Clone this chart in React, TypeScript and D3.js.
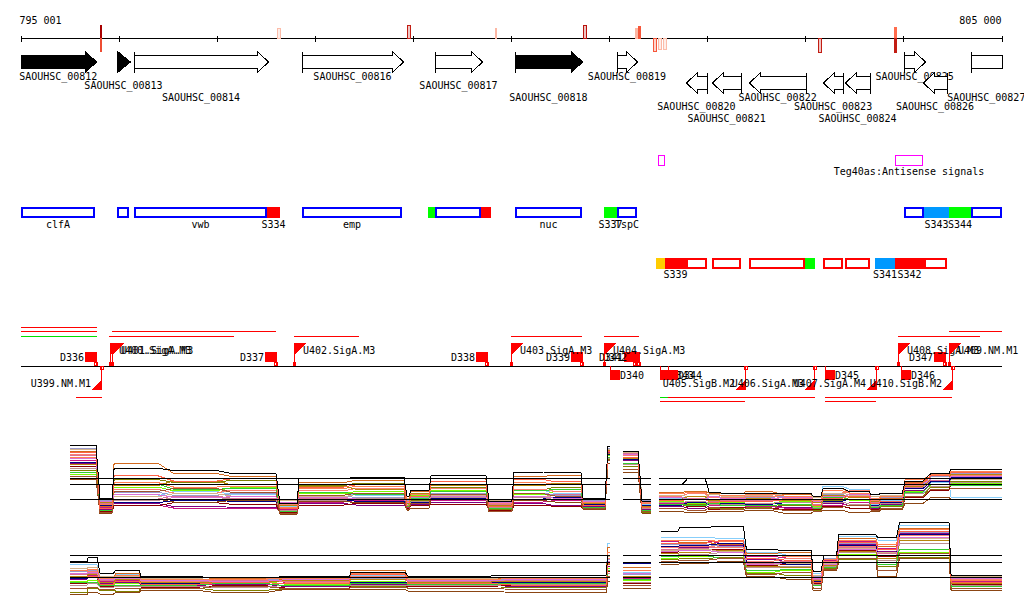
import React from "react";
import * as d3 from "d3";

// ---------- data ----------
const domainStart = 795001;
const domainEnd = 805000;
const rulerTicks = [795001, 796001, 797001, 798001, 799001, 800001, 801001, 802001, 803001, 804001, 805000];
const rulerLabels = [
  { pos: 795001, text: "795 001", anchor: "start" },
  { pos: 805000, text: "805 000", anchor: "end" },
];

const signalMarks = [
  { start: 795811, end: 795831, strand: 1, level: 1.0 },
  { start: 795811, end: 795831, strand: -1, level: 0.6 },
  { start: 797616, end: 797656, strand: 1, level: 0.1 },
  { start: 798941, end: 798981, strand: 1, level: 0.85 },
  { start: 799838, end: 799858, strand: 1, level: 0.12 },
  { start: 800735, end: 800775, strand: 1, level: 0.9 },
  { start: 801265, end: 801290, strand: 1, level: 0.12 },
  { start: 801296, end: 801326, strand: 1, level: 0.55 },
  { start: 801443, end: 801489, strand: -1, level: 0.55 },
  { start: 801494, end: 801540, strand: -1, level: 0.12 },
  { start: 801545, end: 801591, strand: -1, level: 0.1 },
  { start: 803130, end: 803171, strand: -1, level: 0.85 },
  { start: 803905, end: 803935, strand: 1, level: 0.45 },
  { start: 803905, end: 803935, strand: -1, level: 0.85 },
];

const genes = [
  { id: "SAOUHSC_00812", start: 794900, end: 795771, strand: 1, dark: true },
  { id: "SAOUHSC_00813", start: 795985, end: 796117, strand: 1, dark: true },
  { id: "SAOUHSC_00814", start: 796158, end: 797524, strand: 1, dark: false },
  { id: "SAOUHSC_00816", start: 797870, end: 798900, strand: 1, dark: false },
  { id: "SAOUHSC_00817", start: 799226, end: 799705, strand: 1, dark: false },
  { id: "SAOUHSC_00818", start: 800041, end: 800724, strand: 1, dark: true },
  { id: "SAOUHSC_00819", start: 801081, end: 801285, strand: 1, dark: false },
  { id: "SAOUHSC_00820", start: 801784, end: 801998, strand: -1, dark: false },
  { id: "SAOUHSC_00821", start: 802050, end: 802345, strand: -1, dark: false },
  { id: "SAOUHSC_00822", start: 802427, end: 803008, strand: -1, dark: false },
  { id: "SAOUHSC_00823", start: 803181, end: 803385, strand: -1, dark: false },
  { id: "SAOUHSC_00824", start: 803405, end: 803660, strand: -1, dark: false },
  { id: "SAOUHSC_00825", start: 804007, end: 804221, strand: 1, dark: false },
  { id: "SAOUHSC_00826", start: 804200, end: 804445, strand: -1, dark: false },
  { id: "SAOUHSC_00827", start: 804690, end: 805400, strand: 1, dark: false },
];
const geneLabelLane = [0, 1, 2, 0, 1, 2, 0, 3, 4, 2, 3, 4, 0, 3, 2];

const antisenseSignals = [
  { label: "", start: 801499, end: 801570 },
  { label: "Teg40as:Antisense signals", start: 803915, end: 804200 },
];

const senseFeatures = [
  { label: "clfA", start: 795001, end: 795760, type: "cds" },
  { label: "", start: 795985, end: 796107, type: "cds" },
  { label: "vwb", start: 796158, end: 797514, type: "cds" },
  { label: "emp", start: 797870, end: 798890, type: "cds" },
  { label: "", start: 799226, end: 799695, type: "cds" },
  { label: "nuc", start: 800041, end: 800724, type: "cds" },
  { label: "TspC", start: 801081, end: 801285, type: "cds" },
  { label: "", start: 804007, end: 804210, type: "cds" },
  { label: "", start: 804690, end: 805000, type: "cds" },
  { label: "S334", start: 797514, end: 797646, type: "red" },
  { label: "", start: 799155, end: 799226, type: "green" },
  { label: "", start: 799695, end: 799797, type: "red" },
  { label: "S337", start: 800949, end: 801081, type: "green" },
  { label: "S343", start: 804210, end: 804465, type: "blue" },
  { label: "S344", start: 804465, end: 804690, type: "green" },
];

const reverseFeatures = [
  { label: "", start: 801784, end: 801998, type: "cds" },
  { label: "", start: 802050, end: 802345, type: "cds" },
  { label: "", start: 802427, end: 802997, type: "cds" },
  { label: "", start: 803181, end: 803385, type: "cds" },
  { label: "", start: 803405, end: 803660, type: "cds" },
  { label: "", start: 804210, end: 804445, type: "cds" },
  { label: "", start: 801479, end: 801570, type: "orange" },
  { label: "S339", start: 801570, end: 801784, type: "red" },
  { label: "", start: 802997, end: 803099, type: "green" },
  { label: "S341", start: 803711, end: 803915, type: "blue" },
  { label: "S342", start: 803915, end: 804210, type: "red" },
];

const tssForward = [
  { name: "U400.SigA.M3", pos: 795913 },
  { name: "U401.SigA.M3", pos: 795933 },
  { name: "U402.SigA.M3", pos: 797789 },
  { name: "U403.SigA.M3", pos: 800001 },
  { name: "U404.SigA.M3", pos: 800949 },
  { name: "U408.SigA.M3", pos: 803945 },
  { name: "U409.NM.M1", pos: 804465 },
];
const tssReverse = [
  { name: "U399.NM.M1", pos: 795821 },
  { name: "U405.SigB.M2", pos: 802386 },
  { name: "U406.SigA.M3", pos: 803089 },
  { name: "U407.SigA.M4", pos: 803721 },
  { name: "U410.SigB.M2", pos: 804496 },
];
const endsForward = [
  { name: "D336", pos: 795771 },
  { name: "D337", pos: 797605 },
  { name: "D338", pos: 799756 },
  { name: "D339", pos: 800724 },
  { name: "D341", pos: 801265 },
  { name: "D342", pos: 801306 },
  { name: "D347", pos: 804425 },
];
const endsReverse = [
  { name: "D340", pos: 801010 },
  { name: "D343", pos: 801519 },
  { name: "D344", pos: 801601 },
  { name: "D345", pos: 803201 },
  { name: "D346", pos: 803976 },
];

const utrForward = [
  { start: 795001, end: 795781, lane: 2, kind: "r" },
  { start: 795001, end: 795781, lane: 1, kind: "r" },
  { start: 795001, end: 795781, lane: 0, kind: "g" },
  { start: 795934, end: 797605, lane: 1, kind: "r" },
  { start: 795903, end: 797177, lane: 0, kind: "r" },
  { start: 797789, end: 798451, lane: 0, kind: "r" },
  { start: 800001, end: 800724, lane: 0, kind: "r" },
  { start: 800949, end: 801305, lane: 0, kind: "r" },
  { start: 803945, end: 804781, lane: 0, kind: "r" },
  { start: 804465, end: 805000, lane: 1, kind: "r" },
];
const utrReverse = [
  { start: 795567, end: 795832, lane: 0, kind: "r" },
  { start: 801519, end: 803099, lane: 0, kind: "r" },
  { start: 801519, end: 801601, lane: 0, kind: "g" },
  { start: 801519, end: 802386, lane: 1, kind: "r" },
  { start: 803201, end: 804496, lane: 0, kind: "r" },
  { start: 803201, end: 803721, lane: 1, kind: "r" },
];

// expression tracks: [start, end, section]
const p1Segments = [
  [795506, 795771, 0], [795811, 795934, 0], [795955, 796400, 0], [796560, 797000, 0],
  [797150, 797605, 0], [797646, 797820, 0], [797840, 798300, 0], [798420, 798910, 0],
  [798940, 798960, 0], [798981, 799165, 0], [799185, 799745, 0], [799776, 800010, 0],
  [800031, 800330, 0], [800450, 800714, 0], [800735, 800959, 0], [800989, 801010, 0],
  [801142, 801295, 1], [801336, 801428, 1],
  [801509, 801740, 2], [801800, 801980, 2], [802020, 802120, 2], [802141, 802375, 2],
  [802396, 802650, 2], [802780, 803059, 2], [803079, 803160, 2], [803181, 803380, 2],
  [803450, 803650, 2], [803670, 803750, 2], [803770, 803990, 2], [804017, 804200, 2],
  [804280, 804465, 2], [804486, 805000, 2],
];
const p2Segments = [
  [795506, 795680, 0], [795690, 795781, 0], [795811, 795950, 0], [795970, 796210, 0],
  [796230, 796800, 0], [796980, 797500, 0], [797700, 798350, 0], [798370, 798920, 0],
  [798950, 799800, 0], [800000, 800969, 0], [800989, 801010, 0],
  [801142, 801428, 1],
  [801530, 801700, 2], [801720, 802000, 2], [802120, 802370, 2], [802400, 802680, 2],
  [802800, 803060, 2], [803080, 803160, 2], [803190, 803320, 2], [803340, 803720, 2],
  [803740, 803930, 2], [803960, 804465, 2], [804486, 805000, 2],
];
const sectionSpans = [[795506, 801010], [801142, 801428], [801509, 805000]];
const p1RefLevels = [5.0, 4.2, 2.2];
const p2RefLevels = [5.0, 4.03, 2.03];

const seriesColors = [
  "#000000", "#87cefa", "#d2691e", "#808000", "#7cfc00", "#800080", "#c71585",
  "#db7093", "#9999cc", "#8b0000", "#fa8072", "#d2b48c", "#8b4513", "#000080",
  "#ff7f50", "#bc8f8f", "#32cd32", "#a0522d", "#b8860b", "#da70d6", "#ff6347",
];

const p1Values = [
  [9.3, 2.3, 6.3, 6.0, 5.6, 1.6, 4.9, 5.1, 2.6, 3.4, 5.3, 1.9, 5.8, 5.7, 2.3, 9.2, 8.6, 1.9, 4.1, 4.9, 3.1, 3.0, 3.0, 2.9, 2.6, 3.6, 3.2, 2.8, 3.0, 4.6, 5.6, 6.2],
  [9.4, 1.8, 2.6, 3.2, 2.8, 1.2, 3.0, 2.7, 1.5, 2.5, 3.0, 1.4, 3.4, 2.9, 1.7, 8.0, 8.0, 1.5, 2.3, 2.6, 2.1, 2.0, 2.0, 2.5, 1.8, 3.9, 3.5, 1.5, 2.0, 3.0, 4.4, 2.4],
  [8.5, 1.2, 7.0, 5.6, 5.2, 0.8, 4.4, 4.7, 2.2, 3.2, 4.9, 1.1, 5.2, 5.4, 1.6, 8.7, 8.2, 1.0, 3.1, 3.2, 3.0, 3.0, 3.2, 2.8, 2.2, 3.6, 3.0, 2.5, 2.3, 4.4, 5.4, 5.8],
  [6.0, 0.6, 4.8, 4.4, 4.7, 0.5, 4.0, 4.3, 1.0, 2.0, 3.8, 0.8, 3.4, 3.8, 1.2, 7.5, 6.5, 0.4, 1.2, 1.5, 1.0, 1.0, 1.1, 1.4, 0.7, 2.0, 2.4, 0.9, 1.2, 2.6, 3.8, 4.6],
  [5.5, 1.0, 3.8, 3.3, 3.7, 0.9, 2.9, 3.2, 1.4, 2.7, 3.4, 1.0, 2.8, 3.2, 1.4, 8.0, 7.0, 1.1, 1.9, 1.6, 1.8, 1.7, 1.6, 1.9, 1.2, 2.6, 2.0, 1.4, 1.7, 3.2, 4.1, 4.3],
  [7.0, 0.8, 1.6, 1.2, 1.1, 0.6, 1.6, 1.4, 1.0, 1.5, 1.8, 0.9, 1.6, 1.3, 1.2, 8.2, 7.3, 0.8, 1.2, 1.0, 1.3, 1.3, 1.4, 1.1, 1.0, 1.6, 1.3, 1.0, 1.5, 3.3, 4.2, 5.0],
  [7.4, 1.1, 1.4, 1.0, 0.9, 0.8, 1.8, 2.0, 1.1, 1.7, 2.0, 1.2, 1.8, 2.0, 1.0, 8.4, 7.8, 1.3, 1.6, 1.8, 1.4, 1.4, 1.2, 1.0, 0.9, 1.4, 1.7, 1.1, 1.4, 4.0, 5.0, 5.4],
  [8.0, 1.6, 2.2, 2.6, 2.3, 1.3, 2.3, 2.1, 1.7, 2.2, 2.6, 1.5, 2.5, 2.8, 1.8, 8.9, 8.3, 1.7, 2.1, 2.3, 1.9, 2.0, 2.0, 2.2, 1.5, 2.6, 2.9, 1.8, 2.1, 3.8, 4.7, 5.0],
  [9.0, 2.0, 3.1, 2.7, 2.9, 1.8, 2.6, 2.4, 2.0, 2.4, 2.9, 1.7, 3.0, 2.7, 2.0, 9.0, 8.5, 2.0, 2.5, 2.2, 2.6, 2.2, 2.4, 2.6, 2.0, 2.8, 2.5, 2.2, 2.4, 4.2, 5.2, 5.6],
  [6.5, 0.5, 1.3, 1.7, 1.5, 0.4, 1.4, 1.6, 0.9, 1.3, 1.5, 0.7, 1.4, 1.2, 0.9, 7.8, 7.0, 0.6, 0.9, 1.2, 0.8, 1.1, 1.0, 0.8, 0.8, 1.2, 1.0, 0.8, 1.0, 2.4, 3.4, 4.2],
  [8.2, 1.4, 3.5, 3.0, 3.4, 1.5, 3.3, 3.6, 1.8, 2.8, 3.6, 1.6, 3.5, 3.2, 1.9, 8.6, 8.0, 1.8, 2.6, 2.9, 2.4, 2.4, 2.6, 2.3, 2.2, 3.0, 3.3, 2.0, 2.6, 4.0, 5.3, 5.3],
  [8.8, 2.2, 2.5, 2.9, 2.6, 2.0, 2.5, 2.8, 2.3, 2.6, 2.7, 2.0, 2.6, 2.4, 2.2, 8.8, 8.4, 2.2, 2.7, 2.5, 2.8, 2.6, 2.7, 2.9, 2.4, 3.0, 2.7, 2.5, 2.7, 3.6, 4.6, 4.8],
  [4.8, 0.3, 2.2, 1.8, 2.0, 0.2, 1.9, 1.7, 0.7, 1.0, 2.1, 0.5, 2.0, 1.8, 0.8, 7.0, 5.8, 0.3, 0.5, 0.4, 0.6, 0.6, 0.7, 0.3, 0.5, 0.7, 0.4, 0.5, 0.8, 1.6, 2.4, 2.1],
  [7.1, 1.3, 1.7, 2.0, 1.9, 1.0, 2.1, 1.9, 1.3, 1.8, 2.3, 1.3, 2.2, 2.4, 1.5, 8.1, 7.5, 1.4, 1.4, 1.7, 1.5, 1.6, 1.5, 1.7, 1.3, 1.9, 2.2, 1.3, 1.8, 3.6, 4.5, 5.1],
  [7.8, 1.5, 4.4, 3.8, 3.9, 1.1, 3.6, 3.9, 1.9, 3.0, 4.2, 1.3, 4.4, 4.1, 1.7, 8.5, 7.8, 1.6, 2.9, 3.1, 2.6, 2.7, 2.8, 2.6, 2.0, 3.3, 3.0, 2.3, 2.5, 4.8, 5.5, 5.9],
  [6.3, 0.9, 2.0, 2.4, 2.2, 0.7, 2.0, 2.3, 1.2, 1.9, 2.4, 1.1, 2.4, 2.1, 1.3, 7.6, 6.8, 0.9, 1.7, 1.9, 1.5, 1.5, 1.6, 1.8, 1.1, 1.8, 1.5, 1.2, 1.6, 2.9, 3.9, 4.4],
  [5.8, 0.7, 4.2, 3.5, 3.6, 0.6, 3.1, 2.8, 1.2, 2.3, 3.2, 0.9, 3.3, 3.5, 1.1, 7.8, 6.9, 0.7, 1.5, 1.3, 1.6, 1.3, 1.3, 1.5, 1.0, 2.4, 2.1, 1.1, 1.3, 3.1, 4.2, 4.0],
  [5.2, 0.4, 3.2, 3.6, 3.1, 0.3, 2.7, 3.0, 0.8, 1.6, 2.8, 0.6, 2.9, 2.6, 1.0, 7.3, 6.2, 0.5, 1.0, 0.7, 1.1, 0.8, 0.9, 0.7, 0.6, 1.1, 1.4, 0.7, 0.9, 2.5, 3.5, 3.6],
  [6.8, 1.7, 4.0, 4.6, 4.1, 1.4, 3.9, 3.5, 1.6, 2.9, 4.0, 1.4, 4.0, 4.3, 1.6, 8.3, 7.6, 1.2, 2.2, 2.5, 2.0, 2.1, 2.3, 2.0, 1.7, 2.7, 2.4, 1.9, 2.2, 3.9, 4.9, 5.5],
  [7.6, 1.9, 2.8, 2.4, 2.5, 1.7, 2.4, 2.2, 1.8, 2.1, 2.5, 1.8, 2.5, 2.3, 1.9, 8.6, 8.1, 1.9, 2.4, 2.1, 2.5, 2.3, 2.2, 2.4, 1.9, 2.5, 2.8, 2.1, 2.2, 4.1, 4.9, 5.2],
  [8.4, 1.0, 5.3, 4.6, 4.9, 1.0, 3.8, 4.1, 1.3, 2.6, 4.5, 1.2, 4.8, 4.5, 1.4, 8.5, 7.7, 1.1, 2.0, 2.2, 1.8, 1.9, 1.9, 2.1, 1.4, 2.3, 2.6, 1.6, 1.9, 4.3, 5.3, 5.7],
];

const p2Values = [
  [4.1, 4.7, 2.6, 3.0, 2.1, 2.0, 2.1, 2.7, 2.2, 2.3, 5.0, 4.0, 8.1, 8.7, 8.8, 5.7, 5.6, 2.8, 5.0, 7.7, 7.3, 9.3, 2.3],
  [3.7, 3.7, 2.0, 2.4, 1.8, 1.6, 1.9, 2.3, 1.9, 1.7, 6.6, 2.7, 7.4, 7.4, 7.2, 5.4, 5.0, 2.5, 4.6, 7.5, 7.0, 8.9, 2.1],
  [3.0, 3.3, 1.8, 2.6, 1.6, 1.9, 1.7, 3.0, 1.8, 2.0, 6.0, 3.3, 6.6, 6.7, 6.4, 5.2, 5.4, 2.1, 4.2, 7.2, 6.2, 8.6, 1.9],
  [0.0, 0.6, 0.3, 0.2, 0.6, 0.3, 0.5, 0.8, 0.5, 0.7, 2.0, 1.0, 4.4, 4.5, 4.7, 2.6, 2.3, 0.6, 3.2, 4.4, 3.5, 4.7, 0.6],
  [1.5, 1.6, 1.0, 1.2, 1.3, 1.5, 1.1, 1.5, 1.2, 1.4, 3.2, 1.6, 4.6, 4.8, 5.0, 2.7, 3.0, 1.0, 3.4, 5.1, 4.0, 5.4, 0.9],
  [1.8, 2.0, 1.2, 1.4, 0.9, 1.1, 0.8, 1.1, 1.0, 0.8, 3.5, 1.3, 6.2, 6.0, 6.3, 4.4, 4.1, 1.4, 4.0, 6.4, 5.5, 7.9, 1.3],
  [2.1, 2.3, 1.5, 1.6, 1.1, 1.0, 1.3, 1.3, 1.3, 1.1, 3.8, 1.9, 6.8, 6.9, 6.6, 4.8, 4.6, 1.7, 4.3, 6.8, 5.9, 8.2, 1.5],
  [2.4, 2.6, 1.6, 1.8, 1.4, 1.6, 1.5, 1.7, 1.5, 1.6, 4.0, 2.1, 5.8, 5.9, 6.1, 3.9, 4.2, 1.8, 3.8, 6.0, 5.2, 7.4, 1.7],
  [2.8, 2.9, 2.0, 2.1, 1.7, 1.8, 1.6, 1.9, 1.7, 1.8, 4.4, 2.4, 6.4, 6.4, 6.2, 4.6, 4.3, 2.2, 4.5, 6.6, 5.7, 8.0, 2.0],
  [1.2, 1.3, 0.8, 0.9, 0.7, 0.9, 0.6, 0.9, 0.8, 1.0, 2.8, 1.2, 5.4, 5.6, 5.8, 3.6, 3.8, 1.2, 3.6, 5.6, 4.8, 7.0, 1.1],
  [2.6, 2.8, 1.7, 2.0, 1.5, 1.7, 1.4, 2.2, 1.6, 1.5, 4.6, 2.6, 6.0, 6.2, 6.0, 4.2, 4.5, 1.9, 4.1, 6.2, 5.4, 7.6, 1.8],
  [3.2, 3.4, 2.1, 2.2, 1.9, 2.0, 1.8, 2.0, 1.9, 2.0, 4.8, 2.9, 5.6, 5.8, 5.5, 3.7, 3.9, 2.3, 3.9, 5.9, 5.3, 7.2, 2.2],
  [-0.3, 0.0, -0.2, 0.0, 0.3, 0.0, 0.4, 0.4, 0.2, 0.0, 1.5, 0.6, 3.7, 3.9, 4.1, 2.1, 1.8, 0.3, 3.0, 4.0, 2.2, 4.6, 0.3],
  [1.9, 2.1, 1.4, 1.5, 1.2, 1.3, 1.2, 1.4, 1.4, 1.3, 4.2, 3.9, 6.1, 6.3, 6.5, 4.0, 3.8, 1.5, 3.7, 6.3, 5.0, 7.8, 1.4],
  [2.9, 3.1, 1.9, 2.3, 1.7, 1.8, 1.9, 2.6, 1.7, 1.9, 5.4, 3.0, 6.9, 7.0, 6.8, 5.0, 4.8, 2.0, 4.4, 7.0, 6.4, 8.4, 1.6],
  [1.0, 1.2, 0.7, 0.8, 0.8, 0.7, 1.0, 1.0, 0.9, 1.1, 2.6, 1.4, 5.0, 5.1, 5.3, 3.3, 3.5, 1.1, 3.5, 5.3, 4.3, 6.6, 1.0],
  [1.3, 1.4, 0.9, 1.0, 1.0, 1.2, 0.9, 1.2, 1.1, 1.2, 3.0, 1.7, 4.8, 4.9, 4.6, 2.9, 3.1, 0.9, 3.3, 5.0, 3.8, 5.8, 0.8],
  [0.5, 0.7, 0.4, 0.5, 0.5, 0.8, 0.5, 0.7, 0.6, 0.4, 2.2, 0.9, 4.2, 4.3, 4.5, 2.4, 2.7, 0.5, 3.1, 4.6, 3.0, 5.2, 0.5],
  [2.2, 2.4, 1.3, 1.7, 1.3, 1.4, 1.6, 1.8, 1.4, 1.5, 3.7, 2.2, 5.2, 5.3, 5.6, 3.5, 3.3, 1.6, 3.6, 5.5, 4.6, 6.9, 1.2],
  [2.5, 2.7, 1.7, 1.9, 1.6, 1.5, 1.7, 2.0, 1.6, 1.7, 4.1, 2.5, 5.5, 5.6, 5.4, 3.8, 4.0, 1.9, 3.8, 5.8, 5.0, 7.3, 1.9],
  [2.0, 2.2, 1.1, 1.5, 1.1, 1.3, 1.2, 2.4, 1.2, 1.0, 3.9, 2.0, 6.5, 6.6, 6.9, 4.5, 4.3, 1.3, 4.0, 6.7, 5.8, 8.1, 1.4],
];

// ---------- layout ----------
const W = 1024;
const H = 611;
const FONT = "'DejaVu Sans Mono', 'Liberation Mono', monospace";
const x = d3.scaleLinear().domain([domainStart, domainEnd]).range([20.5, 1001.5]);
const RULER_Y = 38.5;
const HEAD = 11;
const laneBaselines = [80, 89, 101, 110, 122];
const typeColor: Record<string, string> = { red: "#ff0000", green: "#00ff00", blue: "#0099ff", orange: "#ffcc00" };
const markColor = d3.scaleLinear<string>().domain([0, 0.5, 1]).range(["#fbd3c3", "#ff6040", "#a80000"]);
const y1 = d3.scaleLinear().domain([0, 10]).range([515.5, 440.5]);
const y2 = d3.scaleLinear().domain([0, 10]).range([592.5, 517.5]);
const TSS_Y = 366.5;

function geneElements(g: any, i: number) {
  const clipS = g.start < domainStart;
  const clipE = g.end > domainEnd;
  const s = Math.round(x(Math.max(g.start, domainStart))) + 0.5;
  const e = Math.round(x(Math.min(g.end, domainEnd))) + 0.5;
  const fill = g.dark ? "#000" : "#fff";
  const els: any[] = [];
  if (g.strand > 0) {
    const top = 51.5, bt = 55.5, bb = 68.5, bot = 72.5, mid = 62;
    let pts: number[][];
    if (clipE) pts = [[s, bt], [e, bt], [e, bb], [s, bb]];
    else if (e - s <= HEAD + 2) pts = [[s, top], [e, mid], [s, bot]];
    else pts = [[s, bt], [e - HEAD, bt], [e - HEAD, top], [e, mid], [e - HEAD, bot], [e - HEAD, bb], [s, bb]];
    els.push(<polygon key={"p" + i} points={pts.map((p) => p.join(",")).join(" ")} fill={fill} stroke="#000" strokeWidth={1} />);
    if (!clipS) els.push(<line key={"t" + i} x1={s} x2={s} y1={top} y2={bot} stroke="#000" />);
  } else {
    const top = 72.5, bt = 76.5, bb = 89.5, bot = 93.5, mid = 83;
    const pts = [[s, mid], [s + HEAD, top], [s + HEAD, bt], [e, bt], [e, bb], [s + HEAD, bb], [s + HEAD, bot]];
    els.push(<polygon key={"p" + i} points={pts.map((p) => p.join(",")).join(" ")} fill={fill} stroke="#000" strokeWidth={1} />);
    els.push(<line key={"t" + i} x1={e} x2={e} y1={top} y2={bot} stroke="#000" />);
  }
  const cx = (x(Math.max(g.start, domainStart)) + x(Math.min(g.end, domainEnd))) / 2;
  els.push(
    <text key={"l" + i} x={cx} y={laneBaselines[geneLabelLane[i]]} textAnchor="middle">{g.id}</text>
  );
  return els;
}

function featureRow(list: any[], y: number, outline: string, labelY: number, prefix: string) {
  const els: any[] = [];
  list.forEach((f, i) => {
    const a = Math.round(x(f.start));
    const b = Math.round(x(f.end));
    if (f.type === "cds") {
      els.push(<rect key={prefix + "r" + i} x={a + 1} y={y + 1} width={b - a - 2} height={9} fill="#fff" stroke={outline} strokeWidth={2} />);
    }
  });
  list.forEach((f, i) => {
    const a = Math.round(x(f.start));
    const b = Math.round(x(f.end));
    if (f.type !== "cds") {
      els.push(<rect key={prefix + "f" + i} x={a} y={y} width={b - a} height={11} fill={typeColor[f.type]} />);
    }
    if (f.label) {
      els.push(<text key={prefix + "t" + i} x={(a + b) / 2} y={labelY} textAnchor="middle">{f.label}</text>);
    }
  });
  return els;
}

function seriesPaths(segs: number[][], vals: number[], ys: any) {
  const groups = new Map<number, [number, number][]>();
  segs.forEach((seg, i) => {
    const v = vals[i];
    if (v === undefined || v === null) return;
    const [a, b, sec] = seg;
    if (!groups.has(sec)) groups.set(sec, []);
    groups.get(sec)!.push([x(a), ys(v)], [x(b), ys(v)]);
  });
  const line = d3.line();
  return Array.from(groups.values()).map((pts) => line(pts) as string);
}

function ExpressionPanel({ segs, values, ys, refs, id }: any) {
  const order = values.map((_: any, i: number) => i).slice(1).concat([0]);
  return (
    <g>
      {order.map((si: number) =>
        seriesPaths(segs, values[si], ys).map((d, k) => (
          <path key={id + si + "-" + k} d={d} fill="none" stroke={seriesColors[si]} strokeWidth={1} />
        ))
      )}
      {refs.map((r: number, ri: number) =>
        sectionSpans.map((sp, k) => (
          <line key={id + "ref" + ri + "-" + k} x1={x(sp[0])} x2={x(sp[1])} y1={Math.round(ys(r)) + 0.5} y2={Math.round(ys(r)) + 0.5} stroke="#000" strokeWidth={1} />
        ))
      )}
    </g>
  );
}

export default function App() {
  const lanesUp = [336.5, 331.5, 327.5];
  const lanesDown = [397.5, 401.5];
  return (
    <svg
      width={W}
      height={H}
      viewBox={`0 0 ${W} ${H}`}
      style={{ position: "absolute", left: 0, top: 0, background: "#fff", display: "block" }}
      fontFamily={FONT}
      fontSize={10}
      shapeRendering="crispEdges"
    >
      <rect x={0} y={0} width={W} height={H} fill="#fff" />
      {/* ruler */}
      <line x1={x(domainStart)} x2={x(domainEnd)} y1={RULER_Y} y2={RULER_Y} stroke="#000" />
      {rulerTicks.map((t) => (
        <line key={"tk" + t} x1={Math.round(x(t)) + 0.5} x2={Math.round(x(t)) + 0.5} y1={35.5} y2={41.5} stroke="#000" />
      ))}
      {rulerLabels.map((l) => (
        <text key={l.text} x={x(l.pos) + (l.anchor === "start" ? -1 : 0)} y={24} textAnchor={l.anchor as any}>{l.text}</text>
      ))}
      {signalMarks.map((m, i) => {
        const a = Math.round(x(m.start));
        const b = Math.max(a + 2, Math.round(x(m.end)));
        const h = m.strand > 0 ? 10 + 3 * m.level : 11 + 3 * m.level;
        const yy = m.strand > 0 ? RULER_Y - h : RULER_Y;
        const c = markColor(m.level);
        return <rect key={"sm" + i} x={a + 0.5} y={yy} width={b - a - 1} height={h} fill={c} fillOpacity={b - a <= 3 ? 1 : 0.25} stroke={c} strokeWidth={1} />;
      })}
      {/* genes */}
      {genes.map((g, i) => geneElements(g, i))}
      {/* antisense signals */}
      {antisenseSignals.map((f, i) => {
        const a = Math.round(x(f.start));
        const b = Math.round(x(f.end));
        return (
          <g key={"as" + i}>
            <rect x={a + 0.5} y={155.5} width={b - a - 1} height={10} fill="#fff" stroke="#ff00ff" strokeWidth={1} />
            {f.label && <text x={(a + b) / 2} y={175} textAnchor="middle">{f.label}</text>}
          </g>
        );
      })}
      {featureRow(senseFeatures, 207, "#0000ff", 228, "sf")}
      {featureRow(reverseFeatures, 258, "#ff0000", 278, "rf")}
      {/* TSS / ends track */}
      {utrForward.map((u, i) => (
        <line key={"uf" + i} x1={x(u.start)} x2={x(u.end)} y1={lanesUp[u.lane]} y2={lanesUp[u.lane]} stroke={u.kind === "g" ? "#00e000" : "#ff0000"} />
      ))}
      {utrReverse.map((u, i) => (
        <line key={"ur" + i} x1={x(u.start)} x2={x(u.end)} y1={lanesDown[u.lane]} y2={lanesDown[u.lane]} stroke={u.kind === "g" ? "#00e000" : "#ff0000"} />
      ))}
      <line x1={x(domainStart)} x2={x(domainEnd)} y1={TSS_Y} y2={TSS_Y} stroke="#000" />
      {endsForward.map((d, i) => {
        const p = Math.round(x(d.pos));
        return (
          <g key={"df" + i}>
            <rect x={p - 11} y={352} width={11} height={10} fill="#ff0000" />
            <line x1={p + 0.5} x2={p + 0.5} y1={352} y2={366} stroke="#ff0000" />
            <rect x={p - 1.5} y={362.5} width={3} height={3} fill="none" stroke="#ff0000" />
            <text x={p - 12} y={361} textAnchor="end">{d.name}</text>
          </g>
        );
      })}
      {endsReverse.map((d, i) => {
        const p = Math.round(x(d.pos));
        return (
          <g key={"dr" + i}>
            <rect x={p} y={370} width={10} height={10} fill="#ff0000" />
            <line x1={p + 0.5} x2={p + 0.5} y1={366} y2={380} stroke="#ff0000" />
            <text x={p + 10} y={379} textAnchor="start">{d.name}</text>
          </g>
        );
      })}
      {tssForward.map((t, i) => {
        const p = Math.round(x(t.pos));
        return (
          <g key={"tf" + i}>
            <line x1={p + 0.5} x2={p + 0.5} y1={343} y2={366} stroke="#ff0000" />
            <rect x={p - 1} y={362} width={3} height={4} fill="#ff0000" />
            <polygon points={`${p},343 ${p + 12},343 ${p},355`} fill="#ff0000" />
            <text x={p + 9} y={353.5}>{t.name}</text>
          </g>
        );
      })}
      {tssReverse.map((t, i) => {
        const p = Math.round(x(t.pos));
        return (
          <g key={"tr" + i}>
            <line x1={p + 0.5} x2={p + 0.5} y1={366} y2={390} stroke="#ff0000" />
            <rect x={p - 0.5} y={366.5} width={3} height={3} fill="none" stroke="#ff0000" />
            <polygon points={`${p + 1},390 ${p - 10},390 ${p + 1},379`} fill="#ff0000" />
            <text x={p - 10} y={386.5} textAnchor="end">{t.name}</text>
          </g>
        );
      })}
      {/* expression */}
      <ExpressionPanel segs={p1Segments} values={p1Values} ys={y1} refs={p1RefLevels} id="a" />
      <ExpressionPanel segs={p2Segments} values={p2Values} ys={y2} refs={p2RefLevels} id="b" />
    </svg>
  );
}
